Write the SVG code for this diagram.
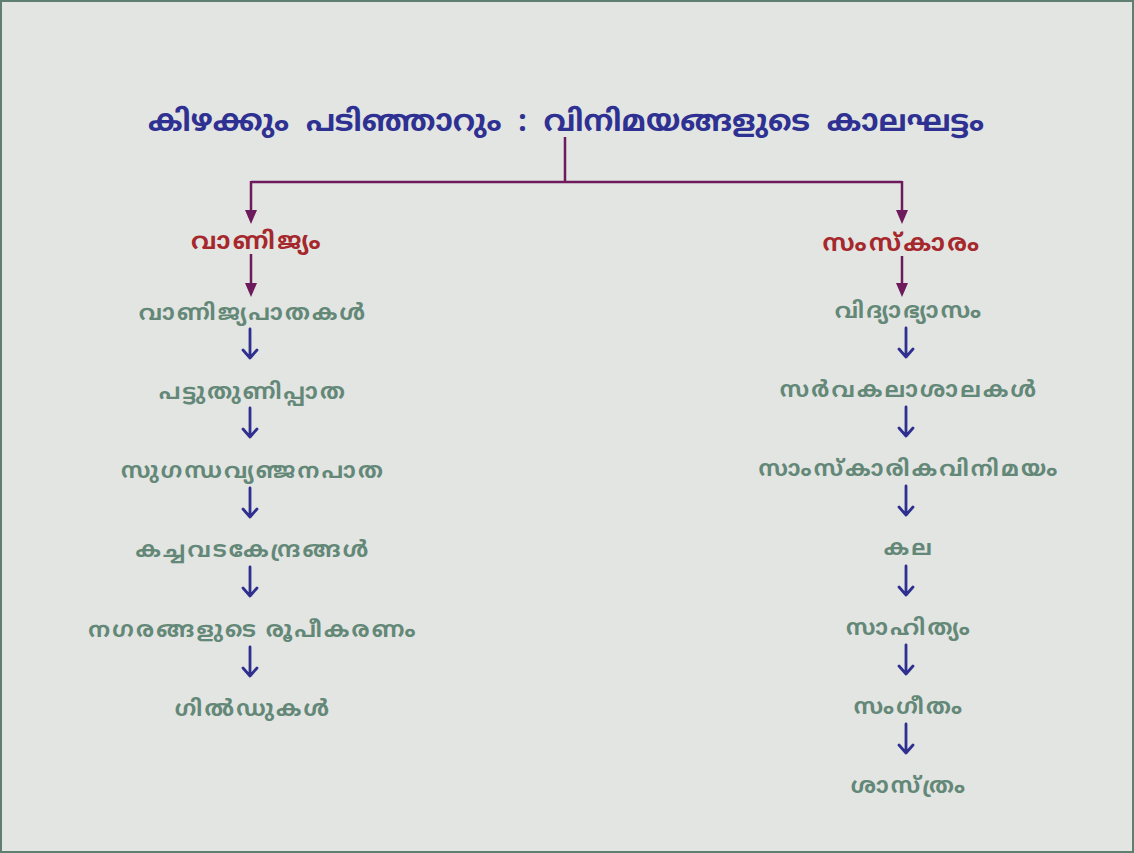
<svg xmlns="http://www.w3.org/2000/svg" width="1134" height="853" viewBox="0 0 1134 853">
<defs>
<style>
.t{font-family:"Noto Sans","Noto Sans Malayalam","DejaVu Sans",sans-serif;font-weight:bold;text-anchor:middle}
.title{font-size:30px;fill:#2e3192;word-spacing:9px}
.head{font-size:24px;fill:#a5282c;letter-spacing:2.4px}
.item{font-size:22px;fill:#648878;letter-spacing:2.2px}
.pl{stroke:#6d1b5c;stroke-width:2.5;fill:none}
.bl{stroke:#2e2f8e;stroke-width:2.8;fill:none;stroke-linecap:round;stroke-linejoin:round}
</style>
</defs>
<rect x="1" y="1" width="1132" height="851" fill="#e3e5e2" stroke="#5f8070" stroke-width="2"/>
<g id="title"><text class="t title" x="566" y="131">കിഴക്കും പടിഞ്ഞാറും : വിനിമയങ്ങളുടെ കാലഘട്ടം</text></g>
<g id="connectors">
<path class="pl" d="M565,137 V182 M251,182 H902 M251,181 V212 M902,181 V212 M251,254 V285 M902,256 V285"/>
<path fill="#6d1b5c" d="M245,210 L257,210 L251,224 Z M896,210 L908,210 L902,224 Z M245,283 L257,283 L251,297 Z M896,283 L908,283 L902,297 Z"/>
<path class="bl" d="M250,329 V358 M243,350 L250,358 L257,350 M250,408 V437 M243,429 L250,437 L257,429 M250,488 V517 M243,509 L250,517 L257,509 M250,567 V596 M243,588 L250,596 L257,588 M250,647 V676 M243,668 L250,676 L257,668"/>
<path class="bl" d="M906,328 V357 M899,349 L906,357 L913,349 M906,407 V436 M899,428 L906,436 L913,428 M906,486 V515 M899,507 L906,515 L913,507 M906,566 V595 M899,587 L906,595 L913,587 M906,645 V674 M899,666 L906,674 L913,666 M906,724 V753 M899,745 L906,753 L913,745"/>
</g>
<g id="vanijyam"><text class="t head" x="257" y="249">വാണിജ്യം</text></g>
<g id="samskaram"><text class="t head" x="902" y="251">സംസ്കാരം</text></g>
<g id="l1"><text class="t item" x="253" y="320">വാണിജ്യപാതകൾ</text></g>
<g id="l2"><text class="t item" x="253" y="399">പട്ടുതുണിപ്പാത</text></g>
<g id="l3"><text class="t item" x="253" y="478">സുഗന്ധവ്യഞ്ജനപാത</text></g>
<g id="l4"><text class="t item" x="253" y="557">കച്ചവടകേന്ദ്രങ്ങൾ</text></g>
<g id="l5"><text class="t item" x="253" y="637">നഗരങ്ങളുടെ  രൂപീകരണം</text></g>
<g id="l6"><text class="t item" x="253" y="716">ഗിൽഡുകൾ</text></g>
<g id="r1"><text class="t item" x="909" y="318">വിദ്യാഭ്യാസം</text></g>
<g id="r2"><text class="t item" x="909" y="397">സർവകലാശാലകൾ</text></g>
<g id="r3"><text class="t item" x="909" y="476">സാംസ്കാരികവിനിമയം</text></g>
<g id="r4"><text class="t item" x="909" y="555">കല</text></g>
<g id="r5"><text class="t item" x="909" y="635">സാഹിത്യം</text></g>
<g id="r6"><text class="t item" x="909" y="714">സംഗീതം</text></g>
<g id="r7"><text class="t item" x="909" y="793">ശാസ്ത്രം</text></g>
</svg>
